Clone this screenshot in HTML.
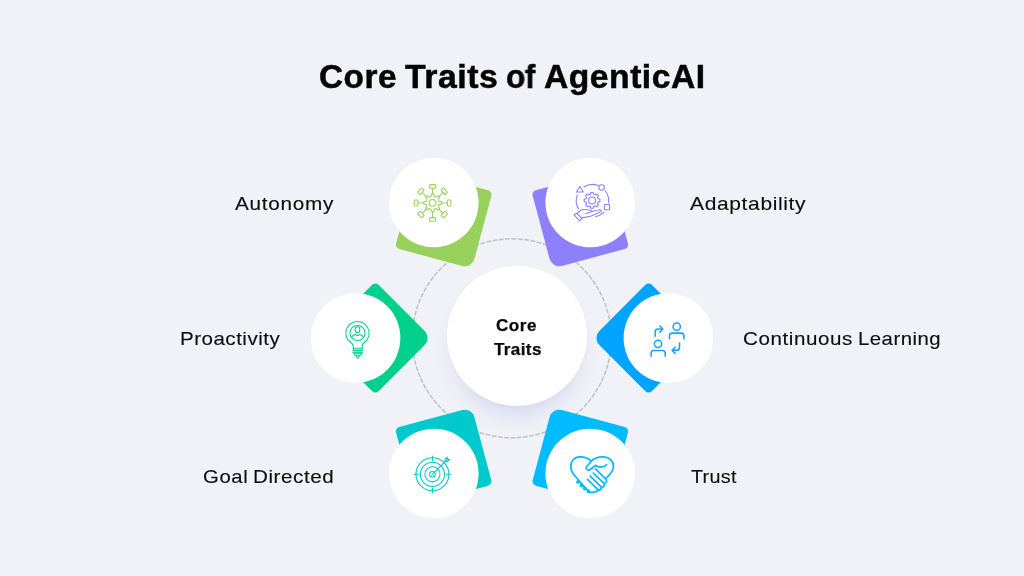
<!DOCTYPE html>
<html><head><meta charset="utf-8">
<style>
html,body{margin:0;padding:0;}
body{width:1024px;height:576px;overflow:hidden;background:#f0f2f7;position:relative;font-family:"Liberation Sans",sans-serif;}
.t{position:absolute;white-space:nowrap;line-height:1;transform-origin:0 0;will-change:transform;}
svg{position:absolute;left:0;top:0;}
</style></head><body>
<svg width="1024" height="576" viewBox="0 0 1024 576">
<defs>
<filter id="sh" x="-50%" y="-50%" width="200%" height="200%"><feGaussianBlur stdDeviation="11"/></filter>
</defs>
<circle cx="511.8" cy="338.3" r="99.5" fill="none" stroke="#c1c1c1" stroke-width="1.5" stroke-dasharray="4.8 1.5" transform="rotate(-90 511.8 338.3)"/>
<circle cx="517" cy="352" r="62" fill="#8a7fd8" opacity="0.26" filter="url(#sh)"/>
<circle cx="517" cy="335.8" r="70" fill="#fff"/>
<g transform="translate(512.0 338.0) rotate(240)"><path d="M-35.35 -39.85 H35.35 A4.5 4.5 0 0 1 39.85 -35.35 V35.35 A4.5 4.5 0 0 1 35.35 39.85 H-29.85 A10.0 10.0 0 0 1 -39.85 29.85 V-35.35 A4.5 4.5 0 0 1 -35.35 -39.85 Z" fill="#97d15c" transform="translate(136.6 0) rotate(45)"/><circle cx="156.4" cy="0" r="44.8" fill="#fff"/></g>
<g transform="translate(512.0 338.0) rotate(300)"><path d="M-35.35 -39.85 H35.35 A4.5 4.5 0 0 1 39.85 -35.35 V35.35 A4.5 4.5 0 0 1 35.35 39.85 H-29.85 A10.0 10.0 0 0 1 -39.85 29.85 V-35.35 A4.5 4.5 0 0 1 -35.35 -39.85 Z" fill="#8e80fa" transform="translate(136.6 0) rotate(45)"/><circle cx="156.4" cy="0" r="44.8" fill="#fff"/></g>
<g transform="translate(512.0 338.0) rotate(180)"><path d="M-35.35 -39.85 H35.35 A4.5 4.5 0 0 1 39.85 -35.35 V35.35 A4.5 4.5 0 0 1 35.35 39.85 H-29.85 A10.0 10.0 0 0 1 -39.85 29.85 V-35.35 A4.5 4.5 0 0 1 -35.35 -39.85 Z" fill="#00d08c" transform="translate(136.6 0) rotate(45)"/><circle cx="156.4" cy="0" r="44.8" fill="#fff"/></g>
<g transform="translate(512.0 338.0) rotate(0)"><path d="M-35.35 -39.85 H35.35 A4.5 4.5 0 0 1 39.85 -35.35 V35.35 A4.5 4.5 0 0 1 35.35 39.85 H-29.85 A10.0 10.0 0 0 1 -39.85 29.85 V-35.35 A4.5 4.5 0 0 1 -35.35 -39.85 Z" fill="#00a3ff" transform="translate(136.6 0) rotate(45)"/><circle cx="156.4" cy="0" r="44.8" fill="#fff"/></g>
<g transform="translate(512.0 338.0) rotate(120)"><path d="M-35.35 -39.85 H35.35 A4.5 4.5 0 0 1 39.85 -35.35 V35.35 A4.5 4.5 0 0 1 35.35 39.85 H-29.85 A10.0 10.0 0 0 1 -39.85 29.85 V-35.35 A4.5 4.5 0 0 1 -35.35 -39.85 Z" fill="#00c9cd" transform="translate(136.6 0) rotate(45)"/><circle cx="156.4" cy="0" r="44.8" fill="#fff"/></g>
<g transform="translate(512.0 338.0) rotate(60)"><path d="M-35.35 -39.85 H35.35 A4.5 4.5 0 0 1 39.85 -35.35 V35.35 A4.5 4.5 0 0 1 35.35 39.85 H-29.85 A10.0 10.0 0 0 1 -39.85 29.85 V-35.35 A4.5 4.5 0 0 1 -35.35 -39.85 Z" fill="#00bbff" transform="translate(136.6 0) rotate(45)"/><circle cx="156.4" cy="0" r="44.8" fill="#fff"/></g>
<g fill="none" stroke="#97d15c" stroke-width="1.05" stroke-linejoin="round" stroke-linecap="round">
<circle cx="432.6" cy="202.9" r="3.3"/>
<path d="M438.91 201.33 L441.41 201.66 L441.41 204.14 L438.91 204.47 L438.17 206.25 L439.71 208.26 L437.96 210.01 L435.95 208.47 L434.17 209.21 L433.84 211.71 L431.36 211.71 L431.03 209.21 L429.25 208.47 L427.24 210.01 L425.49 208.26 L427.03 206.25 L426.29 204.47 L423.79 204.14 L423.79 201.66 L426.29 201.33 L427.03 199.55 L425.49 197.54 L427.24 195.79 L429.25 197.33 L431.03 196.59 L431.36 194.09 L433.84 194.09 L434.17 196.59 L435.95 197.33 L437.96 195.79 L439.71 197.54 L438.17 199.55Z"/>
<path d="M441.50 202.90L447.30 202.90"/>
<rect x="14.70" y="-3" width="3.6" height="6" rx="0.8" transform="translate(432.6 202.9) rotate(0)"/>
<path d="M438.89 209.19L442.99 213.29"/>
<rect x="14.70" y="-3" width="3.6" height="6" rx="0.8" transform="translate(432.6 202.9) rotate(45)"/>
<path d="M432.60 211.80L432.60 217.60"/>
<rect x="14.70" y="-3" width="3.6" height="6" rx="0.8" transform="translate(432.6 202.9) rotate(90)"/>
<path d="M426.31 209.19L422.21 213.29"/>
<rect x="14.70" y="-3" width="3.6" height="6" rx="0.8" transform="translate(432.6 202.9) rotate(135)"/>
<path d="M423.70 202.90L417.90 202.90"/>
<rect x="14.70" y="-3" width="3.6" height="6" rx="0.8" transform="translate(432.6 202.9) rotate(180)"/>
<path d="M426.31 196.61L422.21 192.51"/>
<rect x="14.70" y="-3" width="3.6" height="6" rx="0.8" transform="translate(432.6 202.9) rotate(225)"/>
<path d="M432.60 194.00L432.60 188.20"/>
<rect x="14.70" y="-3" width="3.6" height="6" rx="0.8" transform="translate(432.6 202.9) rotate(270)"/>
<path d="M438.89 196.61L442.99 192.51"/>
<rect x="14.70" y="-3" width="3.6" height="6" rx="0.8" transform="translate(432.6 202.9) rotate(315)"/>
</g>
<g transform="translate(566 178) scale(0.08681)" fill="none" stroke="#8e80fa" stroke-width="12.5" stroke-linejoin="round" stroke-linecap="round">
<path d="M205.9 103.4A187 187 0 0 1 372.0 87.4"/>
<path d="M452.4 146.9A187 187 0 0 1 490.6 284.8"/>
<path d="M130.4 195.0A187 187 0 0 0 143.1 355.5"/>
<path d="M437.2 394.2A187 187 0 0 1 337.5 446.2"/>
<path d="M160 97L120 162L200 162Z"/>
<circle cx="410" cy="110" r="32"/>
<rect x="442" y="305" width="60" height="60" rx="5"/>
<circle cx="300" cy="258" r="40"/>
<path d="M369.55 239.37 L390.87 243.61 L390.87 272.39 L369.55 276.63 L362.35 294.00 L374.43 312.08 L354.08 332.43 L336.00 320.35 L318.63 327.55 L314.39 348.87 L285.61 348.87 L281.37 327.55 L264.00 320.35 L245.92 332.43 L225.57 312.08 L237.65 294.00 L230.45 276.63 L209.13 272.39 L209.13 243.61 L230.45 239.37 L237.65 222.00 L225.57 203.92 L245.92 183.57 L264.00 195.65 L281.37 188.45 L285.61 167.13 L314.39 167.13 L318.63 188.45 L336.00 195.65 L354.08 183.57 L374.43 203.92 L362.35 222.00Z" stroke-linejoin="round"/>
<path d="M93 425L122 406L185 469L156 494Z"/>
<path d="M130 407C150 390 160 375 180 367C200 360 250 366 288 372C300 376 300 388 290 390C270 398 250 404 225 408"/>
<path d="M298 386C320 382 360 370 389 366C408 366 412 380 398 388C370 402 330 420 300 436C270 450 220 452 183 458"/>
</g>
<g transform="translate(331 312) scale(0.08681)" fill="none" stroke="#00d08c" stroke-width="12" stroke-linejoin="round" stroke-linecap="round">
<path d="M257 418V395C257 360 228 352 194.4 321.4A135 135 0 1 1 415.6 321.4C382 352 359 360 359 395V418"/>
<circle cx="305" cy="242" r="87"/>
<ellipse cx="305" cy="205" rx="27" ry="34"/>
<path d="M236 292C247 272 262 263 278 259L305 274L332 259C348 263 363 272 374 292"/>
<path d="M257 418H359V442H257Z"/>
<path d="M250 449H366M250 467H366" stroke-width="10"/>
<path d="M266 476H352L346 498H272Z"/>
<path d="M291 500L298 524Q309 540 320 524L327 500"/>
</g>
<g transform="translate(642 313) scale(0.08681)" fill="none" stroke="#1aa3fb" stroke-width="18" stroke-linejoin="round" stroke-linecap="round">
<circle cx="400" cy="158" r="42"/>
<path d="M317 298V265A33 33 0 0 1 350 232H450A33 33 0 0 1 483 265V298"/>
<circle cx="185" cy="355" r="42"/>
<path d="M105 497V465A33 33 0 0 1 138 432H235A33 33 0 0 1 268 465V497"/>
<path d="M152 268V218A33 33 0 0 1 185 185H235M205 150L240 185L205 220"/>
<path d="M432 347V397A33 33 0 0 1 399 430H350M382 395L347 430L382 465"/>
</g>
<g transform="translate(407 448) scale(0.08681)" fill="none" stroke="#00c9cd" stroke-width="12" stroke-linejoin="round" stroke-linecap="round">
<circle cx="293" cy="303" r="190"/>
<circle cx="293" cy="303" r="139"/>
<circle cx="293" cy="303" r="87"/>
<circle cx="293" cy="303" r="32"/>
<path d="M293 92V145M293 462V515M82 303H135M452 303H505"/>
<path d="M293 303L470 125"/>
<path d="M440 155V128L462 106V130M440 155H467L492 132H466"/>
</g>
<g transform="translate(568 454) scale(0.06944)" fill="none" stroke="#00b9ff" stroke-width="25" stroke-linejoin="round" stroke-linecap="round">
<path d="M335 104C300 66 240 42 170 42C90 42 40 105 40 183C40 240 70 285 110 328L290 535C320 555 370 552 400 540"/>
<path d="M335 104C370 66 430 42 500 42C590 42 655 100 655 178C655 240 610 295 545 352"/>
<path d="M335 104L270 180C250 205 270 240 305 230C340 215 370 185 395 165C430 190 510 205 555 155"/>
<path d="M395 215L545 362C565 385 550 420 522 425C535 455 510 480 482 478C485 505 462 525 435 518C430 535 415 545 400 540"/>
<path d="M365 275L522 425M320 320L482 478M280 365L435 518"/>
<circle cx="145" cy="402" r="15"/>
<circle cx="194" cy="452" r="15"/>
<circle cx="242" cy="497" r="15"/>
<circle cx="295" cy="536" r="15"/>
</g>
</svg>
<div class="t" style="left:319.12px;top:61.06px;font-size:32.3px;font-weight:bold;color:#040404;letter-spacing:0.499px;transform:translateY(0px) scaleX(1.0315);-webkit-text-stroke:0.50px #040404;">Core</div>
<div class="t" style="left:405.34px;top:61.06px;font-size:32.3px;font-weight:bold;color:#040404;letter-spacing:0.501px;transform:translateY(0px) scaleX(1.0456);-webkit-text-stroke:0.50px #040404;">Traits</div>
<div class="t" style="left:506.04px;top:61.06px;font-size:32.3px;font-weight:bold;color:#040404;letter-spacing:-0.401px;transform:translateY(0px) scaleX(0.9807);-webkit-text-stroke:0.50px #040404;">of</div>
<div class="t" style="left:543.97px;top:61.06px;font-size:32.3px;font-weight:bold;color:#040404;letter-spacing:0.498px;transform:translateY(0px) scaleX(1.0413);-webkit-text-stroke:0.50px #040404;">AgenticAI</div>
<div class="t" style="left:234.90px;top:194.42px;font-size:19px;color:#0d0d0d;letter-spacing:0.676px;transform:translateY(0px) scaleX(1.0905);-webkit-text-stroke:0.12px #0d0d0d;">Autonomy</div>
<div class="t" style="left:180.12px;top:328.12px;font-size:19px;color:#0d0d0d;letter-spacing:0.445px;transform:translateY(0.6px) scaleX(1.0824);-webkit-text-stroke:0.12px #0d0d0d;">Proactivity</div>
<div class="t" style="left:203.00px;top:467.22px;font-size:19px;color:#0d0d0d;letter-spacing:0.583px;transform:translateY(0px) scaleX(1.0699);-webkit-text-stroke:0.12px #0d0d0d;">Goal</div>
<div class="t" style="left:253.12px;top:467.22px;font-size:19px;color:#0d0d0d;letter-spacing:0.521px;transform:translateY(0px) scaleX(1.0839);-webkit-text-stroke:0.12px #0d0d0d;">Directed</div>
<div class="t" style="left:690.14px;top:194.42px;font-size:19px;color:#0d0d0d;letter-spacing:0.570px;transform:translateY(0px) scaleX(1.1059);-webkit-text-stroke:0.12px #0d0d0d;">Adaptability</div>
<div class="t" style="left:743.41px;top:328.12px;font-size:19px;color:#0d0d0d;letter-spacing:0.544px;transform:translateY(0.6px) scaleX(1.0828);-webkit-text-stroke:0.12px #0d0d0d;">Continuous</div>
<div class="t" style="left:858.42px;top:328.12px;font-size:19px;color:#0d0d0d;letter-spacing:0.462px;transform:translateY(0.6px) scaleX(1.0703);-webkit-text-stroke:0.12px #0d0d0d;">Learning</div>
<div class="t" style="left:690.62px;top:467.22px;font-size:19px;color:#0d0d0d;letter-spacing:0.269px;transform:translateY(0px) scaleX(1.0393);-webkit-text-stroke:0.12px #0d0d0d;">Trust</div>
<div class="t" style="left:496.21px;top:317.96px;font-size:16px;font-weight:bold;color:#0a0a0a;letter-spacing:0.509px;transform:translateY(0px) scaleX(1.0671);-webkit-text-stroke:0.25px #0a0a0a;">Core</div>
<div class="t" style="left:493.50px;top:342.06px;font-size:16px;font-weight:bold;color:#0a0a0a;letter-spacing:0.352px;transform:translateY(0px) scaleX(1.0659);-webkit-text-stroke:0.25px #0a0a0a;">Traits</div>
</body></html>
